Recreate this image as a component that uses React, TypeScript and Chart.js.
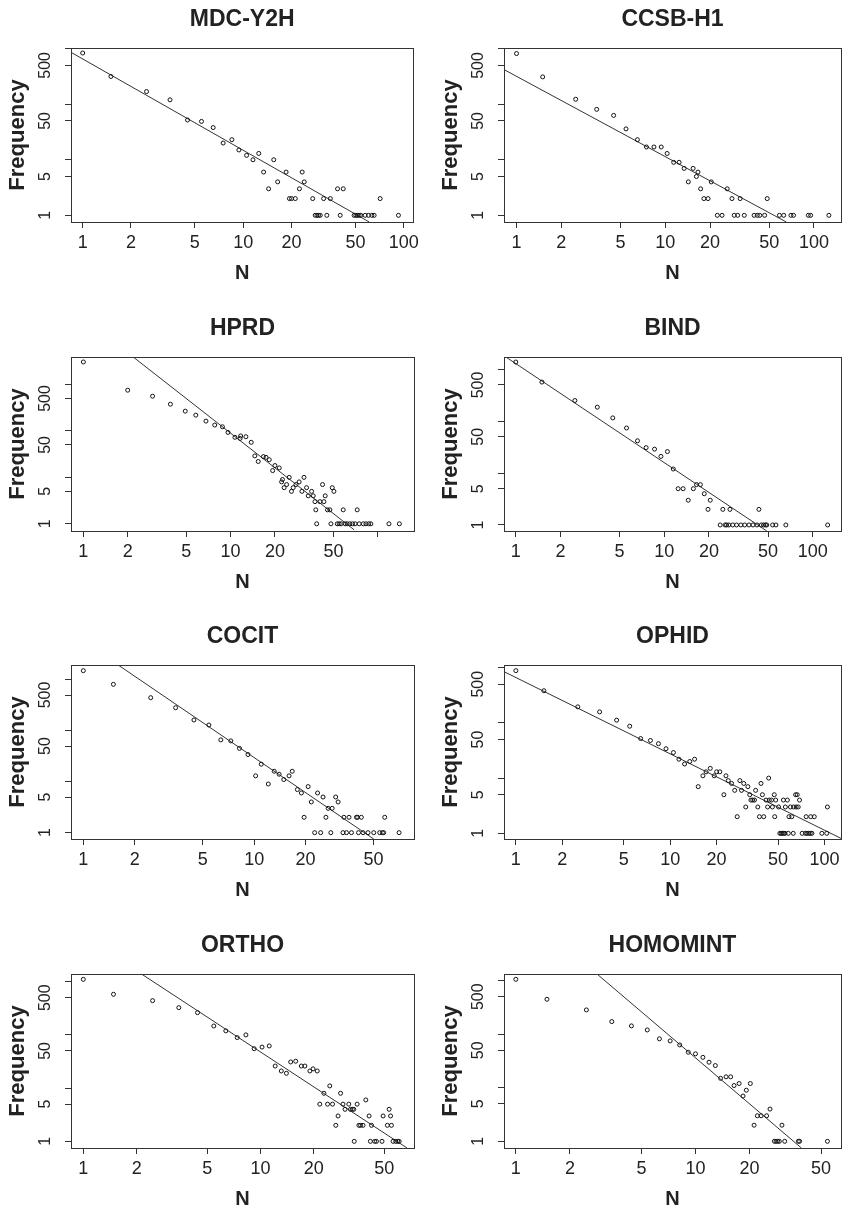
import React, { useEffect, useRef } from 'react';
import { Chart, registerables } from 'chart.js';

Chart.register(...registerables);

const FONT = '"Liberation Sans", Arial, Helvetica, sans-serif';

// ---------- data (N = interaction count, Freq = frequency) ----------
const mdcN = [1, 1.5, 2.5, 3.5, 4.5, 5.5, 6.5, 7.5, 8.5, 9.4, 10.5, 11.5, 12.5, 13.4, 14.4, 15.5, 16.4, 18.5, 19.4, 20, 21.1, 22.4, 23.3, 24, 27.1, 28.1, 28.8, 29.5, 30.2, 31.7, 33.2, 34.9, 38.7, 40.2, 42, 49.1, 50.3, 51.5, 52.7, 54, 57.5, 60.3, 63.3, 65.4, 71.3, 92.7];
const mdcFreq = [835, 316, 169, 120, 52, 49, 38, 20, 23, 15, 12, 10, 13, 6, 3, 10, 4, 6, 2, 2, 2, 3, 6, 4, 2, 1, 1, 1, 1, 2, 1, 2, 3, 1, 3, 1, 1, 1, 1, 1, 1, 1, 1, 1, 2, 1];
const mdcFitN = [0.846, 61];
const mdcFitFreq = [860, 0.758];

const ccsbN = [1, 1.5, 2.5, 3.46, 4.5, 5.45, 6.5, 7.48, 8.4, 9.4, 10.3, 11.4, 12.4, 13.4, 14.3, 15.4, 16.2, 16.6, 17.3, 18.2, 19.4, 20.4, 22.4, 24.1, 26.1, 28.1, 29.1, 30.7, 31.9, 34, 39.6, 41.6, 43.2, 46.6, 48.5, 58.6, 62.6, 70, 72.9, 91.7, 95, 126];
const ccsbFreq = [818, 311, 123, 81, 63, 36, 23, 17, 17, 17, 13, 9, 9, 7, 4, 7, 5, 6, 3, 2, 2, 4, 1, 1, 3, 2, 1, 1, 2, 1, 1, 1, 1, 1, 2, 1, 1, 1, 1, 1, 1, 1];
const ccsbFitN = [0.824, 65.2];
const ccsbFitFreq = [421, 0.758];

const hprdN = [1, 2, 2.95, 3.9, 4.92, 5.8, 6.8, 7.8, 8.8, 9.6, 10.7, 11.6, 11.7, 12.7, 13.8, 14.6, 15.4, 16.7, 17.4, 18.3, 19.3, 20, 21.4, 22.2, 22.5, 23.1, 24, 25, 25.9, 26.6, 27.8, 29.2, 30.5, 31.5, 32.8, 33.7, 35.5, 36.4, 37.4, 37.9, 38.4, 40.4, 42.1, 43, 43.9, 45.5, 47.2, 48, 49, 50.3, 53, 54.6, 56.3, 58.2, 60, 61.9, 64.5, 67.3, 70.1, 72.4, 74.7, 79.6, 83, 86.7, 89.6, 119, 140];
const hprdFreq = [3063, 755, 561, 377, 267, 219, 163, 134, 123, 93, 73, 69, 78, 75, 57, 29, 22, 28, 27, 24, 14, 18, 16, 8, 9, 6, 7, 10, 5, 6, 7, 8, 5, 10, 6, 4, 5, 4, 3, 2, 1, 3, 7, 3, 4, 2, 2, 1, 6, 5, 1, 1, 1, 2, 1, 1, 1, 1, 1, 2, 1, 1, 1, 1, 1, 1, 1];
const hprdFitN = [2.18, 69];
const hprdFitFreq = [3918, 0.743];

const bindN = [1, 1.5, 2.5, 3.54, 4.5, 5.57, 6.6, 7.55, 8.6, 9.5, 10.5, 11.5, 12.4, 13.4, 14.5, 15.7, 16.5, 17.5, 18.6, 19.7, 20.4, 23.8, 24.8, 25.7, 26.3, 27.2, 27.7, 28.9, 30.7, 32.8, 34.8, 37.2, 39.6, 42.1, 43.4, 45, 46.6, 48, 49, 53.7, 56.5, 65.9, 126];
const bindFreq = [1387, 569, 251, 187, 116, 74, 42, 31, 29, 21, 26, 12, 5, 5, 3, 5, 6, 6, 4, 2, 3, 1, 2, 1, 1, 1, 2, 1, 1, 1, 1, 1, 1, 1, 2, 1, 1, 1, 1, 1, 1, 1, 1];
const bindFitN = [0.858, 49];
const bindFitFreq = [1733, 0.765];

const cocitN = [1, 1.5, 2.48, 3.47, 4.44, 5.43, 6.38, 7.3, 8.2, 9.2, 10.2, 11, 12.1, 13.1, 14, 14.9, 16, 16.7, 17.9, 18.9, 19.6, 20.7, 21.6, 22.6, 23.5, 24.5, 25.3, 26.3, 27.1, 28.1, 28.6, 30, 31, 33.1, 33.5, 34.7, 35.9, 37.1, 39.7, 40.3, 40.8, 42.4, 43.4, 46.4, 50.1, 54.3, 56.3, 57.3, 58.1, 70.5];
const cocitFreq = [1501, 810, 444, 282, 162, 129, 66, 63, 45, 34, 13, 22, 9, 16, 14, 11, 13, 16, 7, 6, 2, 8, 4, 1, 6, 1, 5, 2, 3, 1, 3, 5, 4, 1, 2, 1, 2, 1, 2, 2, 1, 2, 1, 1, 1, 1, 1, 1, 2, 1];
const cocitFitN = [1.6, 50.1];
const cocitFitFreq = [1940, 0.751];

const ophidN = [1, 1.52, 2.52, 3.49, 4.5, 5.47, 6.44, 7.45, 8.4, 9.4, 10.5, 11.4, 12.4, 13.4, 14.4, 15.2, 16.3, 17.1, 18.2, 19.3, 20, 21, 22.3, 23, 23.8, 25, 26.2, 27.2, 28.3, 29, 30, 30.9, 31.9, 32.8, 33.4, 34.3, 35.2, 35.8, 37, 37.9, 38.8, 39.6, 40.4, 41.8, 42.8, 43.5, 43.9, 45.4, 46, 47.3, 47.6, 48.3, 50.4, 51.4, 52.4, 53.4, 54.2, 54.5, 55.5, 55.8, 57.5, 58.3, 58.9, 60.2, 61.4, 62.8, 63.1, 65, 65.6, 66.6, 67.6, 68.9, 71.7, 75.3, 76.1, 77.1, 79, 80.9, 81.5, 82.9, 85.9, 96.2, 103.5, 104.5];
const ophidFreq = [882, 382, 195, 158, 112, 87, 52, 48, 42, 34, 29, 22, 18, 20, 22, 7, 11, 13, 15, 11, 13, 13, 5, 11, 9, 8, 6, 2, 9, 6, 8, 3, 7, 5, 4, 4, 4, 6, 3, 2, 8, 5, 2, 4, 3, 10, 4, 4, 3, 5, 2, 4, 3, 1, 1, 1, 4, 1, 1, 3, 4, 1, 2, 3, 2, 1, 3, 5, 3, 5, 3, 4, 1, 1, 2, 1, 1, 1, 2, 1, 2, 1, 1, 3];
const ophidFitN = [0.838, 128];
const ophidFitFreq = [846, 0.81];

const orthoN = [1, 1.48, 2.46, 3.46, 4.41, 5.45, 6.37, 7.39, 8.27, 9.21, 10.2, 11.2, 12.1, 13.1, 14, 14.8, 15.8, 17, 17.8, 19, 19.8, 20.9, 21.6, 22.8, 23.9, 24.6, 25.5, 26.6, 27.4, 28.3, 29.2, 30, 31.5, 32.2, 33, 33.6, 33.8, 35.1, 35.9, 36.7, 37.9, 39.3, 41, 41.7, 42.3, 44.1, 45.1, 48.5, 49.2, 52, 53.2, 54.2, 54.8, 56, 58, 59.5, 60.6];
const orthoFreq = [1106, 579, 440, 325, 262, 147, 119, 89, 100, 55, 59, 62, 26, 21, 19, 31, 32, 26, 26, 21, 23, 21, 5, 8, 5, 11, 5, 2, 3, 8, 5, 4, 5, 4, 4, 4, 1, 5, 2, 2, 2, 6, 3, 1, 2, 1, 1, 1, 3, 2, 4, 3, 2, 1, 1, 1, 1];
const orthoFitN = [2.13, 67.2];
const orthoFitFreq = [1393, 0.75];

const homoN = [1, 1.49, 2.47, 3.42, 4.4, 5.39, 6.3, 7.23, 8.17, 9.12, 10, 11, 11.9, 12.9, 13.8, 14.8, 15.7, 16.4, 17.5, 18.4, 19.2, 20.2, 21.2, 22.1, 23.2, 24.9, 26, 27.5, 28.1, 28.7, 29.3, 30.3, 31.4, 37.4, 38, 54.3];
const homoFreq = [1059, 449, 284, 172, 143, 120, 82, 75, 63, 46, 43, 37, 30, 26, 15, 16, 16, 11, 12, 7, 9, 12, 2, 3, 3, 3, 4, 1, 1, 1, 1, 2, 1, 1, 1, 1];
const homoFitN = [2.83, 38.9];
const homoFitFreq = [1331, 0.75];

// ---------- axes ----------
const xTickValues = [1, 2, 5, 10, 20, 50, 100];
const yTickValues = [1, 5, 10, 50, 100, 500, 1000];
const yTickLabels = ['1', '5', '', '50', '', '500', ''];
const xAxisTitle = 'N';
const yAxisTitle = 'Frequency';

type Panel = {
  title: string;
  n: number[];
  freq: number[];
  fitN: number[];
  fitFreq: number[];
  xRange: [number, number];
  yRange: [number, number];
  xLabels: number[];
  row: number;
  col: number;
};

const panels: Panel[] = [
  { title: 'MDC-Y2H', n: mdcN, freq: mdcFreq, fitN: mdcFitN, fitFreq: mdcFitFreq, xRange: [0.846, 114.8], yRange: [0.758, 1028], xLabels: [1, 2, 5, 10, 20, 50, 100], row: 0, col: 0 },
  { title: 'CCSB-H1', n: ccsbN, freq: ccsbFreq, fitN: ccsbFitN, fitFreq: ccsbFitFreq, xRange: [0.824, 152], yRange: [0.758, 1030], xLabels: [1, 2, 5, 10, 20, 50, 100], row: 0, col: 1 },
  { title: 'HPRD', n: hprdN, freq: hprdFreq, fitN: hprdFitN, fitFreq: hprdFitFreq, xRange: [0.824, 176], yRange: [0.743, 3918], xLabels: [1, 2, 5, 10, 20, 50], row: 1, col: 0 },
  { title: 'BIND', n: bindN, freq: bindFreq, fitN: bindFitN, fitFreq: bindFitFreq, xRange: [0.833, 155], yRange: [0.765, 1733], xLabels: [1, 2, 5, 10, 20, 50, 100], row: 1, col: 1 },
  { title: 'COCIT', n: cocitN, freq: cocitFreq, fitN: cocitFitN, fitFreq: cocitFitFreq, xRange: [0.847, 86.2], yRange: [0.751, 1940], xLabels: [1, 2, 5, 10, 20, 50], row: 2, col: 0 },
  { title: 'OPHID', n: ophidN, freq: ophidFreq, fitN: ophidFitN, fitFreq: ophidFitFreq, xRange: [0.838, 128], yRange: [0.789, 1117], xLabels: [1, 2, 5, 10, 20, 50, 100], row: 2, col: 1 },
  { title: 'ORTHO', n: orthoN, freq: orthoFreq, fitN: orthoFitN, fitFreq: orthoFitFreq, xRange: [0.852, 73.5], yRange: [0.75, 1393], xLabels: [1, 2, 5, 10, 20, 50], row: 3, col: 0 },
  { title: 'HOMOMINT', n: homoN, freq: homoFreq, fitN: homoFitN, fitFreq: homoFitFreq, xRange: [0.859, 64.6], yRange: [0.75, 1331], xLabels: [1, 2, 5, 10, 20, 50], row: 3, col: 1 },
];

// ---------- layout ----------
const BOX_TOP = [48, 357, 665, 974];
const BOX_H = 174;
const COLS = [
  { canvasX: 0, boxLeft: 71, boxRight: 414 },
  { canvasX: 423, boxLeft: 504, boxRight: 845 },
];
const CANVAS_W = 423;
const CANVAS_H = 285;
const TOP_PAD = 48;
const INK = '#222';
const LINE = '#333';

const framePlugin = {
  id: 'rframe',
  afterDraw(chart: any, _args: any, opts: any) {
    const { ctx, chartArea: a } = chart;
    const ys = chart.scales.y;
    ctx.save();
    ctx.strokeStyle = LINE;
    ctx.lineWidth = 1;
    ctx.strokeRect(Math.round(a.left) + 0.5, Math.round(a.top) + 0.5, Math.round(a.right - a.left), Math.round(a.bottom - a.top));

    ctx.fillStyle = INK;
    ctx.textAlign = 'center';
    ctx.textBaseline = 'middle';
    ctx.font = `16px ${FONT}`;
    yTickValues.forEach((v, i) => {
      const lbl = yTickLabels[i];
      if (!lbl || v < ys.min || v > ys.max) return;
      const py = ys.getPixelForValue(v);
      ctx.save();
      ctx.translate(a.left - 25, py);
      ctx.rotate(-Math.PI / 2);
      ctx.fillText(lbl, 0, 0);
      ctx.restore();
    });

    const cx = (a.left + a.right) / 2;
    ctx.font = `bold 23px ${FONT}`;
    ctx.fillText(opts.title, cx, a.top - 28);
    ctx.font = `bold 20px ${FONT}`;
    ctx.fillText(xAxisTitle, cx, a.bottom + 51);
    ctx.save();
    ctx.translate(a.left - 53, (a.top + a.bottom) / 2);
    ctx.rotate(-Math.PI / 2);
    ctx.font = `bold 22px ${FONT}`;
    ctx.fillText(yAxisTitle, 0, 0);
    ctx.restore();
    ctx.restore();
  },
};

function PanelChart({ p }: { p: Panel }) {
  const ref = useRef<HTMLCanvasElement | null>(null);
  const col = COLS[p.col];
  useEffect(() => {
    if (!ref.current) return;
    const gridOpts = { display: true, drawOnChartArea: false, drawTicks: true, tickLength: 6, color: LINE, lineWidth: 1 };
    const chart = new Chart(ref.current, {
      type: 'scatter',
      data: {
        datasets: [
          {
            data: p.n.map((x, i) => ({ x, y: p.freq[i] })),
            showLine: false,
            pointRadius: 2,
            pointBorderWidth: 1,
            pointBorderColor: '#111',
            pointBackgroundColor: 'rgba(0,0,0,0)',
          },
          {
            data: p.fitN.map((x, i) => ({ x, y: p.fitFreq[i] })),
            showLine: true,
            borderColor: LINE,
            borderWidth: 1,
            pointRadius: 0,
          },
        ],
      } as any,
      options: {
        responsive: false,
        animation: false,
        events: [],
        layout: { padding: { left: 0, top: TOP_PAD, right: CANVAS_W - (col.boxRight - col.canvasX), bottom: 0 } },
        plugins: {
          legend: { display: false },
          tooltip: { enabled: false },
          rframe: { title: p.title },
        } as any,
        scales: {
          x: {
            type: 'logarithmic',
            position: 'bottom',
            min: p.xRange[0],
            max: p.xRange[1],
            afterBuildTicks: (s: any) => {
              s.ticks = xTickValues.filter((v) => v >= s.min && v <= s.max).map((v) => ({ value: v }));
            },
            afterFit: (s: any) => {
              s.height = CANVAS_H - TOP_PAD - BOX_H;
            },
            ticks: {
              autoSkip: false,
              maxRotation: 0,
              minRotation: 0,
              padding: 4,
              color: INK,
              font: { family: FONT, size: 18 },
              callback: (v: any) => (p.xLabels.includes(Number(v)) ? String(v) : ''),
            },
            grid: gridOpts,
            border: { display: false },
          },
          y: {
            type: 'logarithmic',
            position: 'left',
            min: p.yRange[0],
            max: p.yRange[1],
            afterBuildTicks: (s: any) => {
              s.ticks = yTickValues.filter((v) => v >= s.min && v <= s.max).map((v) => ({ value: v }));
            },
            afterFit: (s: any) => {
              s.width = col.boxLeft - col.canvasX;
            },
            ticks: { display: false },
            grid: gridOpts,
            border: { display: false },
          },
        } as any,
      },
      plugins: [framePlugin],
    });
    return () => chart.destroy();
  }, []);
  return (
    <canvas
      ref={ref}
      width={CANVAS_W}
      height={CANVAS_H}
      style={{ position: 'absolute', left: col.canvasX, top: BOX_TOP[p.row] - TOP_PAD, width: CANVAS_W, height: CANVAS_H }}
    />
  );
}

export default function App() {
  return (
    <div style={{ position: 'absolute', left: 0, top: 0, width: 846, height: 1211, background: '#fff', overflow: 'hidden' }}>
      {panels.map((p) => (
        <PanelChart key={p.title} p={p} />
      ))}
    </div>
  );
}
